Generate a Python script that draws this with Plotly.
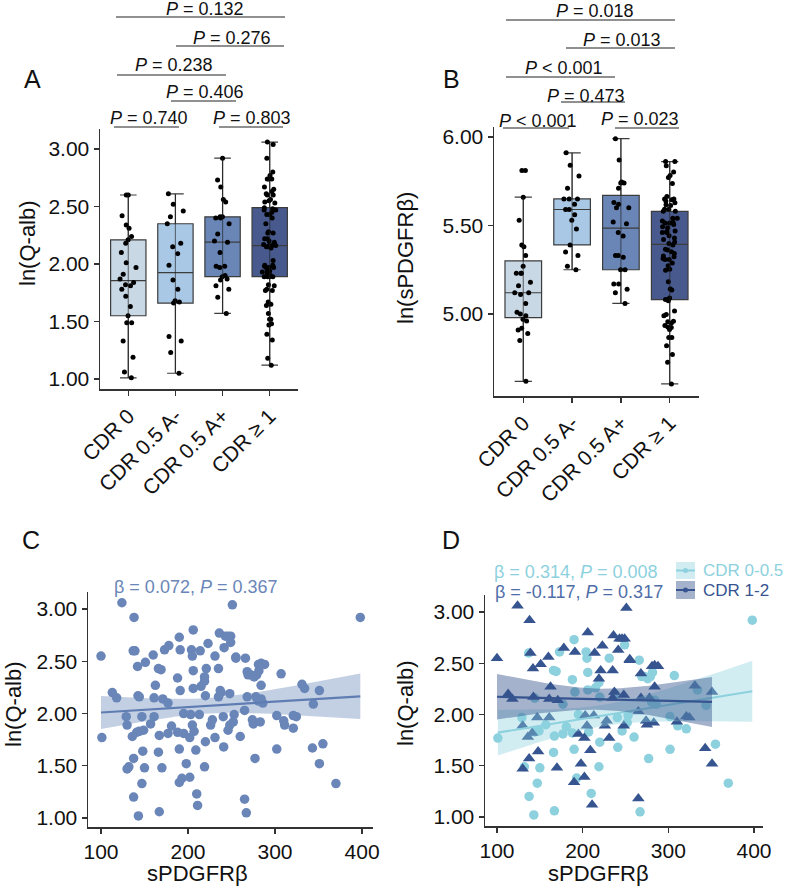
import numpy as np
import plotly.graph_objects as go

W, H = 786, 887
FONT = "Liberation Sans"

# ---------------- data ----------------
groups = ["CDR 0", "CDR 0.5 A-", "CDR 0.5 A+", "CDR ≥ 1"]

# scatter data (panel C = all subjects, panel D split by CDR)
spdgfrb_cdr12 = [100, 113, 118, 124, 130, 130, 136, 139, 138, 137.5, 141, 142, 142.5, 147, 148, 151,
                 160, 161, 161, 162.5, 171, 170, 178, 190, 191, 195, 198, 202, 202, 203, 205, 206,
                 209, 211, 213, 214, 219, 221, 223, 226, 228, 231, 235, 235, 236, 237, 241.5, 243,
                 246, 248, 248, 249, 251, 255, 255, 265, 265, 268, 268, 274, 275, 278, 281, 283,
                 284, 284, 288, 310, 321, 324.5, 331, 343, 351, 351]
qalb_cdr12 = [2.55, 2.20, 2.15, 3.06, 1.89, 1.47, 1.78, 2.60, 2.92, 1.57, 1.82, 2.45, 2.17, 1.97, 1.64, 2.49,
              2.56, 2.15, 1.97, 2.27, 2.14, 1.48, 2.65, 1.34, 2.61, 1.81, 1.52, 1.39, 1.77, 1.99, 1.89, 2.80,
              1.65, 1.12, 1.99, 2.60, 2.35, 2.43, 2.67, 1.89, 1.94, 1.77, 2.16, 2.43, 2.77, 2.22, 2.63, 2.74,
              2.74, 1.89, 2.19, 2.74, 3.04, 2.54, 2.53, 1.18, 2.03, 2.40, 2.16, 1.94, 1.90, 2.16, 2.47, 1.92,
              2.48, 2.27, 2.47, 1.93, 1.98, 1.97, 2.28, 1.67, 1.52, 2.22]

spdgfrb_cdr05 = [101, 129, 132, 137, 137.5, 144, 143, 144, 147, 149, 150, 157, 166, 169, 166, 167, 167,
                 173, 177, 177, 181, 188, 188, 190, 191, 190, 193, 195, 204, 205, 206, 206, 207, 210,
                 215, 219, 219, 220, 220, 231, 238, 241, 240.5, 246, 249, 252, 253, 260, 266, 267,
                 269, 272, 276, 277, 279, 280.5, 281.5, 284, 286, 302, 302, 307, 311, 321, 334, 344,
                 355, 370, 398]
qalb_cdr05 = [1.77, 1.97, 1.49, 2.60, 1.20, 2.16, 1.02, 1.83, 1.33, 1.84, 1.48, 1.90, 2.43, 2.42, 1.63, 1.79, 1.06,
              2.61, 2.10, 1.81, 1.88, 2.34, 1.82, 1.66, 2.22, 2.73, 1.38, 2.00, 2.61, 2.55, 2.24, 2.41, 1.83, 1.23,
              2.26, 1.49, 2.31, 2.17, 1.73, 2.55, 2.20, 1.68, 1.97, 1.84, 2.68, 1.92, 1.99, 1.78, 2.53, 1.05,
              2.37, 2.37, 2.35, 1.57, 2.37, 2.12, 2.41, 2.14, 2.10, 1.66, 1.98, 2.38, 1.89, 1.86, 2.24, 2.09,
              1.71, 1.33, 2.92]

# box-plot data (panel A: ln(Q-alb), panel B: ln(sPDGFRβ)); CDR >= 1 = the CDR 1-2 subjects
lnqalb_cdr0 = [2.60, 2.60, 2.42, 2.34, 2.31, 2.24, 2.18, 2.21, 2.10, 2.01, 1.97, 1.91, 1.87, 1.84, 1.81,
               1.82, 1.78, 1.72, 1.63, 1.49, 1.55, 1.49, 1.33, 1.19, 1.06, 1.01]
lnqalb_cdr05neg = [2.61, 2.52, 2.46, 2.41, 2.35, 2.15, 2.18, 2.09, 1.99, 1.86, 1.78, 1.68, 1.67, 1.66,
                   1.37, 1.33, 1.23, 1.05]
lnqalb_cdr05pos = [2.92, 2.73, 2.67, 2.56, 2.54, 2.41, 2.40, 2.40, 2.41, 2.35, 2.26, 2.20, 2.19, 2.10,
                   1.98, 1.97, 1.98, 1.90, 1.89, 1.87, 1.86, 1.81, 1.78, 1.71, 1.57]
lnspd_cdr0 = [5.81, 5.81, 5.66, 5.53, 5.39, 5.38, 5.33, 5.27, 5.23, 5.23, 5.23, 5.18, 5.16, 5.12, 5.12,
              5.11, 5.06, 5.01, 5.00, 4.99, 4.97, 4.96, 4.92, 4.91, 4.89, 4.85, 4.62]
lnspd_cdr05neg = [5.91, 5.84, 5.78, 5.71, 5.65, 5.65, 5.65, 5.62, 5.59, 5.59, 5.56, 5.53, 5.48, 5.39,
                  5.35, 5.33, 5.27, 5.25]
lnspd_cdr05pos = [5.99, 5.87, 5.745, 5.74, 5.74, 5.71, 5.63, 5.62, 5.60, 5.60, 5.52, 5.51, 5.46, 5.44,
                  5.33, 5.32, 5.33, 5.25, 5.25, 5.17, 5.17, 5.14, 5.12, 5.06]

pvals_A = ["0.132", "0.276", "0.238", "0.406", "0.740", "0.803"]
pvals_B = ["= 0.018", "= 0.013", "< 0.001", "= 0.473", "< 0.001", "= 0.023"]
stat_C = ("0.072", "0.367")
stat_D = [("0.314", "0.008"), ("-0.117", "0.317")]

lnqalb = [lnqalb_cdr0, lnqalb_cdr05neg, lnqalb_cdr05pos, qalb_cdr12]
lnspd = [lnspd_cdr0, lnspd_cdr05neg, lnspd_cdr05pos, list(np.log(spdgfrb_cdr12))]

# ---------------- styles ----------------
box_fill = ["#c8d8e4", "#a9c8e6", "#6986b7", "#48598e"]
C_COL = "#6a86b8"
CYAN = "#8dd1de"
NAVY = "#36548f"
AX = "#333333"


def px(xp):
    return xp / W


def py(yp):
    return 1 - yp / H


fig = go.Figure()


def quart_fences(v):
    v = np.asarray(v, float)
    q1, q3 = np.percentile(v, [25, 75])
    iqr = q3 - q1
    lo = v[v >= q1 - 1.5 * iqr].min()
    hi = v[v <= q3 + 1.5 * iqr].max()
    return lo, hi


for ax_i, data in ((1, lnqalb), (2, lnspd)):
    xa = "x" if ax_i == 1 else "x2"
    ya = "y" if ax_i == 1 else "y2"
    for g, vals, col in zip(groups, data, box_fill):
        fig.add_trace(go.Box(
            x=[g] * len(vals), y=vals, xaxis=xa, yaxis=ya,
            fillcolor=col, line=dict(color="#3c3c3c", width=1.2),
            whiskerwidth=0.47, width=0.75, boxpoints="all", jitter=0.5, pointpos=0,
            marker=dict(color="black", size=5), quartilemethod="inclusive",
            hoverinfo="skip", showlegend=False))
    for g, vals in zip(groups, data):
        lo, hi = quart_fences(vals)
        fig.add_trace(go.Scatter(x=[g, g], y=[lo, hi], xaxis=xa, yaxis=ya, mode="lines",
                                 line=dict(color="rgba(30,30,30,0.55)", width=1.2),
                                 hoverinfo="skip", showlegend=False))


def fit_band(x, y, n=100):
    x = np.asarray(x, float)
    y = np.asarray(y, float)
    b, a = np.polyfit(x, y, 1)
    xs = np.linspace(x.min(), x.max(), n)
    yh = a + b * xs
    res = y - (a + b * x)
    m = len(x)
    s = np.sqrt(np.sum(res ** 2) / (m - 2))
    sxx = np.sum((x - x.mean()) ** 2)
    se = s * np.sqrt(1 / m + (xs - x.mean()) ** 2 / sxx)
    t = 1.96 + 2.4 / (m - 2)
    return xs, yh, yh - t * se, yh + t * se


def add_fit(x, y, col, fill, xa, ya):
    xs, yh, lo, hi = fit_band(x, y)
    fig.add_trace(go.Scatter(x=np.concatenate([xs, xs[::-1]]), y=np.concatenate([hi, lo[::-1]]),
                             fill="toself", fillcolor=fill, line=dict(width=0), mode="lines",
                             xaxis=xa, yaxis=ya, hoverinfo="skip", showlegend=False))
    fig.add_trace(go.Scatter(x=xs, y=yh, mode="lines", line=dict(color=col, width=2.2),
                             xaxis=xa, yaxis=ya, hoverinfo="skip", showlegend=False))


# panel C
all_x = spdgfrb_cdr05 + spdgfrb_cdr12
all_y = qalb_cdr05 + qalb_cdr12
fig.add_trace(go.Scatter(x=all_x, y=all_y, mode="markers", xaxis="x3", yaxis="y3",
                         marker=dict(color=C_COL, size=9.5), hoverinfo="skip", showlegend=False))
add_fit(all_x, all_y, "#5f7db2", "rgba(106,134,184,0.40)", "x3", "y3")

# panel D
fig.add_trace(go.Scatter(x=spdgfrb_cdr05, y=qalb_cdr05, mode="markers", xaxis="x4", yaxis="y4",
                         marker=dict(color=CYAN, size=9.5), hoverinfo="skip", showlegend=False))
fig.add_trace(go.Scatter(x=spdgfrb_cdr12, y=qalb_cdr12, mode="markers", xaxis="x4", yaxis="y4",
                         marker=dict(color=NAVY, size=11, symbol="triangle-up"),
                         hoverinfo="skip", showlegend=False))
add_fit(spdgfrb_cdr05, qalb_cdr05, CYAN, "rgba(141,209,222,0.40)", "x4", "y4")
add_fit(spdgfrb_cdr12, qalb_cdr12, NAVY, "rgba(54,84,143,0.45)", "x4", "y4")

# ---------------- axes ----------------
common = dict(showline=True, linecolor=AX, linewidth=1.5, ticks="outside", ticklen=5,
              tickcolor=AX, tickwidth=1.3, showgrid=False, zeroline=False, automargin=False,
              tickfont=dict(family=FONT, size=21, color="#111111"))
cat = dict(type="category", categoryorder="array", categoryarray=groups, range=[-0.6, 3.6],
           tickangle=-45)
fig.update_layout(
    template="none",
    width=W, height=H, margin=dict(l=0, r=0, t=0, b=0, pad=0), autosize=False,
    paper_bgcolor="white", plot_bgcolor="white", showlegend=False,
    xaxis=dict(domain=[px(100), px(298)], anchor="y", **cat, **common),
    yaxis=dict(domain=[py(389), py(129)], anchor="x", range=[0.913, 3.174],
               tickvals=[1, 1.5, 2, 2.5, 3], tickformat=".2f", **common),
    xaxis2=dict(domain=[px(494), px(699)], anchor="y2", **cat, **common),
    yaxis2=dict(domain=[py(396), py(127)], anchor="x2", range=[4.537, 6.056],
                tickvals=[5, 5.5, 6], tickformat=".2f", **common),
    xaxis3=dict(domain=[px(88), px(373)], anchor="y3", range=[85.06, 412.6],
                tickvals=[100, 200, 300, 400], **common),
    yaxis3=dict(domain=[py(827), py(592)], anchor="x3", range=[0.914, 3.163],
                tickvals=[1, 1.5, 2, 2.5, 3], tickformat=".2f", **common),
    xaxis4=dict(domain=[px(485), px(763)], anchor="y4", range=[86.0, 410.5],
                tickvals=[100, 200, 300, 400], **common),
    yaxis4=dict(domain=[py(826), py(595)], anchor="x4", range=[0.912, 3.166],
                tickvals=[1, 1.5, 2, 2.5, 3], tickformat=".2f", **common),
)

ann = []
shapes = []


def text(t, xp, yp, size=18, color="#111111", angle=0, xanchor="center"):
    ann.append(dict(text=t, x=px(xp), y=py(yp), xref="paper", yref="paper", showarrow=False,
                    xanchor=xanchor, yanchor="middle", textangle=angle, borderpad=0,
                    font=dict(family=FONT, size=size, color=color)))


def hline(x0, x1, yp, color="#222222", width=1.1):
    shapes.append(dict(type="line", xref="paper", yref="paper", x0=px(x0), x1=px(x1),
                       y0=py(yp), y1=py(yp), line=dict(color=color, width=width)))


# panel letters
text("A", 32, 79, 25)
text("B", 451, 79, 25)
text("C", 31, 540, 25)
text("D", 451, 540, 25)

# axis titles
text("ln(Q-alb)", 27, 243, 22, angle=-90)
text("ln(sPDGFRβ)", 406, 258, 22, angle=-90)
text("ln(Q-alb)", 13, 704, 22, angle=-90)
text("ln(Q-alb)", 405, 703, 22, angle=-90)
text("sPDGFRβ", 197, 873, 22)
text("sPDGFRβ", 598, 873, 22)

# significance brackets A
brA_lines = [(116, 285, 17), (176, 284, 46), (117, 226, 75), (171, 236, 101), (114, 179, 127), (219, 283, 127)]
brA_text = [(205, 9), (232, 38), (174, 65), (205, 92), (149, 118), (252, 118)]
for (x0, x1, yl), (tx, ty), p in zip(brA_lines, brA_text, pvals_A):
    hline(x0, x1, yl)
    text(f"<i>P</i> = {p}", tx, ty, 18)

brB_lines = [(506, 675, 20), (566, 675, 48), (506, 615, 77), (561, 625, 102), (503, 569, 128), (615, 679, 128)]
brB_text = [(595, 11), (622, 40), (564, 68), (586, 96), (538, 121), (640, 119)]
for (x0, x1, yl), (tx, ty), p in zip(brB_lines, brB_text, pvals_B):
    hline(x0, x1, yl)
    text(f"<i>P</i> {p}", tx, ty, 18)

# regression stats
text(f"β = {stat_C[0]}, <i>P</i> = {stat_C[1]}", 196, 587, 18, color=C_COL)
text(f"β = {stat_D[0][0]}, <i>P</i> = {stat_D[0][1]}", 576, 572, 18, color=CYAN)
text(f"β = {stat_D[1][0]}, <i>P</i> = {stat_D[1][1]}", 579, 592, 18, color="#4f6ea8")

# manual legend for panel D
for (y0, y1, col, fill, lab) in ((562, 579, CYAN, "rgba(141,209,222,0.40)", "CDR 0-0.5"),
                                 (581, 599, NAVY, "rgba(54,84,143,0.45)", "CDR 1-2")):
    shapes.append(dict(type="rect", xref="paper", yref="paper", x0=px(676), x1=px(695),
                       y0=py(y1), y1=py(y0), fillcolor=fill, line=dict(width=0)))
    ym = (y0 + y1) / 2
    hline(676, 695, ym, color=col, width=2)
    shapes.append(dict(type="circle", xref="paper", yref="paper", x0=px(683), x1=px(688),
                       y0=py(ym + 2.5), y1=py(ym - 2.5), fillcolor=col, line=dict(width=0)))
    text(lab, 702, ym, 17, color=col, xanchor="left")

fig.update_layout(annotations=ann, shapes=shapes)
fig.write_html(
    "out.html",
    config={"displayModeBar": False, "staticPlot": True},
    post_script="document.body.style.margin='0px';document.body.style.padding='0px';"
                "document.documentElement.style.overflow='hidden';",
)
